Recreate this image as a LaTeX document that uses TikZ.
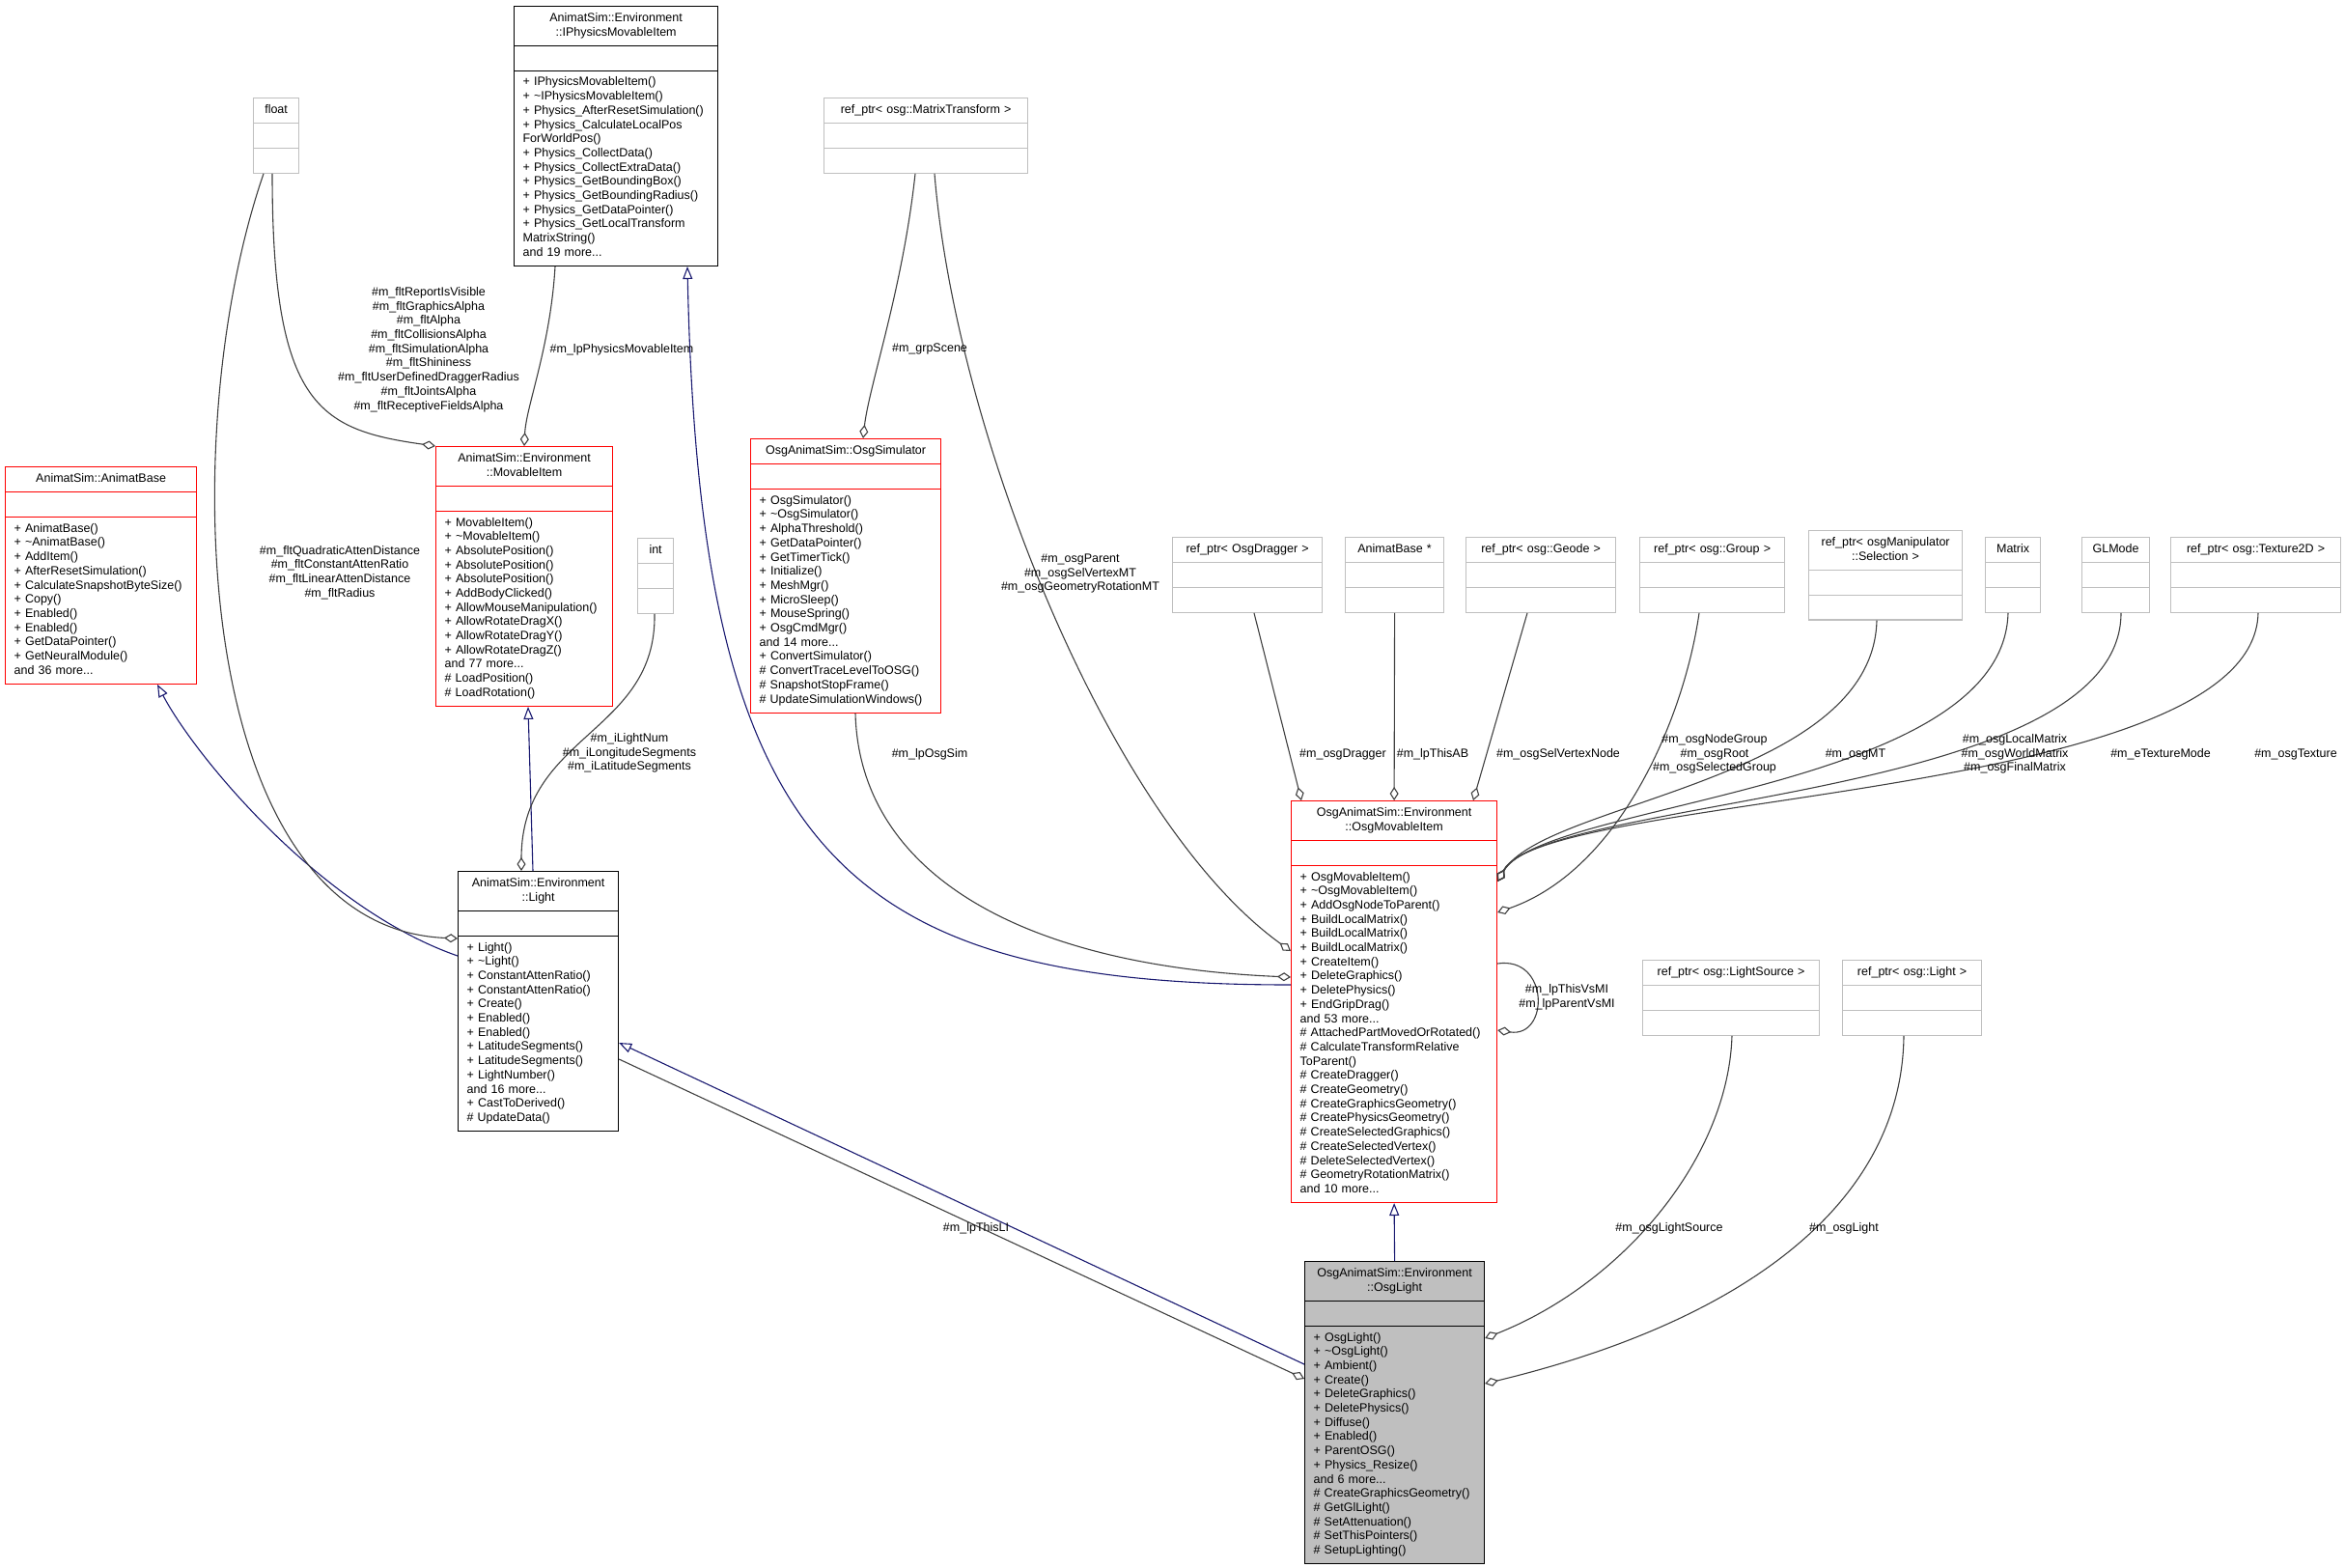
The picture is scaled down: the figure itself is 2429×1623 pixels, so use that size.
\documentclass[tikz,border=0pt]{standalone}
\usepackage{fontspec}
\setmainfont{Liberation Sans}
\usetikzlibrary{arrows.meta,shapes.multipart}
\definecolor{boxgrey}{HTML}{BFBFBF}
\definecolor{edgegrey}{HTML}{404040}
\definecolor{navyline}{HTML}{191970}
% title / empty attributes / members
\newcommand{\umlparts}[2]{\makebox[\hsize]{\begin{tabular}{@{}c@{}}#1\end{tabular}}\nodepart{two}\strut\nodepart{three}\strut#2\strut}
\tikzset{
cls/.style={rectangle split,rectangle split parts=3,draw,anchor=north west,
  inner xsep=9pt,inner ysep=5pt,align=left,line width=1.2pt},
redcls/.style={cls,draw=red},
greycls/.style={cls,draw=boxgrey},
maincls/.style={cls,fill=boxgrey},
agg/.style={draw=edgegrey,line width=1.1pt,-{Diamond[open,length=14pt,width=9pt]}},
inherit/.style={draw=navyline,line width=1.1pt,-{Triangle[open,length=13pt,width=10pt]}},
lbl/.style={align=center,inner sep=0pt}
}
\begin{document}
\begin{tikzpicture}[x=1pt,y=-1pt,font=\fontsize{12.5}{14.7}\selectfont]
\useasboundingbox (0,0) rectangle (2429,1623);
% classes
\node[cls,text width=193pt] (iphys) at (532,6) {\umlparts{AnimatSim::Environment\\::IPhysicsMovableItem}
{+ IPhysicsMovableItem()\\+ \textasciitilde IPhysicsMovableItem()\\+ Physics\_AfterResetSimulation()\\+ Physics\_CalculateLocalPos\\ForWorldPos()\\+ Physics\_CollectData()\\+ Physics\_CollectExtraData()\\+ Physics\_GetBoundingBox()\\+ Physics\_GetBoundingRadius()\\+ Physics\_GetDataPointer()\\+ Physics\_GetLocalTransform\\MatrixString()\\and 19 more...}};
\node[greycls,text width=29pt] (floatbox) at (262,101) {\umlparts{float}{}};
\node[redcls,text width=180pt] (animatbase) at (5,483) {\umlparts{AnimatSim::AnimatBase}
{+ AnimatBase()\\+ \textasciitilde AnimatBase()\\+ AddItem()\\+ AfterResetSimulation()\\+ CalculateSnapshotByteSize()\\+ Copy()\\+ Enabled()\\+ Enabled()\\+ GetDataPointer()\\+ GetNeuralModule()\\and 36 more...}};
\node[redcls,text width=165pt] (movable) at (451,462) {\umlparts{AnimatSim::Environment\\::MovableItem}
{+ MovableItem()\\+ \textasciitilde MovableItem()\\+ AbsolutePosition()\\+ AbsolutePosition()\\+ AbsolutePosition()\\+ AddBodyClicked()\\+ AllowMouseManipulation()\\+ AllowRotateDragX()\\+ AllowRotateDragY()\\+ AllowRotateDragZ()\\and 77 more...\\\# LoadPosition()\\\# LoadRotation()}};
\node[greycls,text width=19pt] (intbox) at (660,557) {\umlparts{int}{}};
\node[cls,text width=148pt] (light) at (474,902) {\umlparts{AnimatSim::Environment\\::Light}
{+ Light()\\+ \textasciitilde Light()\\+ ConstantAttenRatio()\\+ ConstantAttenRatio()\\+ Create()\\+ Enabled()\\+ Enabled()\\+ LatitudeSegments()\\+ LatitudeSegments()\\+ LightNumber()\\and 16 more...\\+ CastToDerived()\\\# UpdateData()}};
\node[redcls,text width=179pt] (osgsim) at (777,454) {\umlparts{OsgAnimatSim::OsgSimulator}
{+ OsgSimulator()\\+ \textasciitilde OsgSimulator()\\+ AlphaThreshold()\\+ GetDataPointer()\\+ GetTimerTick()\\+ Initialize()\\+ MeshMgr()\\+ MicroSleep()\\+ MouseSpring()\\+ OsgCmdMgr()\\and 14 more...\\+ ConvertSimulator()\\\# ConvertTraceLevelToOSG()\\\# SnapshotStopFrame()\\\# UpdateSimulationWindows()}};
\node[greycls,text width=193pt] (mtrans) at (853,101) {\umlparts{ref\_ptr< osg::MatrixTransform >}{}};
\node[greycls,text width=137pt] (dragger) at (1214,556) {\umlparts{ref\_ptr< OsgDragger >}{}};
\node[greycls,text width=84pt] (abptr) at (1393,556) {\umlparts{AnimatBase *}{}};
\node[greycls,text width=137pt] (geode) at (1518,556) {\umlparts{ref\_ptr< osg::Geode >}{}};
\node[greycls,text width=132pt] (group) at (1698,556) {\umlparts{ref\_ptr< osg::Group >}{}};
\node[greycls,text width=141pt] (selection) at (1873,549) {\umlparts{ref\_ptr< osgManipulator\\::Selection >}{}};
\node[greycls,text width=39pt] (matrix) at (2056,556) {\umlparts{Matrix}{}};
\node[greycls,text width=52pt] (glmode) at (2156,556) {\umlparts{GLMode}{}};
\node[greycls,text width=158pt] (texture) at (2248,556) {\umlparts{ref\_ptr< osg::Texture2D >}{}};
\node[redcls,text width=195pt] (osgmov) at (1337,829) {\umlparts{OsgAnimatSim::Environment\\::OsgMovableItem}
{+ OsgMovableItem()\\+ \textasciitilde OsgMovableItem()\\+ AddOsgNodeToParent()\\+ BuildLocalMatrix()\\+ BuildLocalMatrix()\\+ BuildLocalMatrix()\\+ CreateItem()\\+ DeleteGraphics()\\+ DeletePhysics()\\+ EndGripDrag()\\and 53 more...\\\# AttachedPartMovedOrRotated()\\\# CalculateTransformRelative\\ToParent()\\\# CreateDragger()\\\# CreateGeometry()\\\# CreateGraphicsGeometry()\\\# CreatePhysicsGeometry()\\\# CreateSelectedGraphics()\\\# CreateSelectedVertex()\\\# DeleteSelectedVertex()\\\# GeometryRotationMatrix()\\and 10 more...}};
\node[maincls,text width=168pt] (osglight) at (1351,1306) {\umlparts{OsgAnimatSim::Environment\\::OsgLight}
{+ OsgLight()\\+ \textasciitilde OsgLight()\\+ Ambient()\\+ Create()\\+ DeleteGraphics()\\+ DeletePhysics()\\+ Diffuse()\\+ Enabled()\\+ ParentOSG()\\+ Physics\_Resize()\\and 6 more...\\\# CreateGraphicsGeometry()\\\# GetGlLight()\\\# SetAttenuation()\\\# SetThisPointers()\\\# SetupLighting()}};
\node[greycls,text width=165pt] (lsource) at (1701,994) {\umlparts{ref\_ptr< osg::LightSource >}{}};
\node[greycls,text width=126pt] (lightptr) at (1908,994) {\umlparts{ref\_ptr< osg::Light >}{}};
% inheritance
\draw[inherit] (osglight.north) -- (osgmov.south);
\draw[inherit] (osglight.west |- 0,1413) -- (light.east |- 0,1080);
\draw[inherit] (552,0 |- light.north) -- (547,0 |- movable.south);
\draw[inherit] (light.west |- 0,990) .. controls (330,940) and (200,780) .. (163,0 |- animatbase.south);
\draw[inherit] (osgmov.west |- 0,1020) .. controls (870,1020) and (725,880) .. (712,0 |- iphys.south);
% members
\draw[agg] (282,0 |- floatbox.south) .. controls (282,420) and (330,445) .. (movable.north west);
\draw[agg] (273,0 |- floatbox.south) .. controls (180,450) and (200,960) .. (light.west |- 0,972);
\draw[agg] (575,0 |- iphys.south) .. controls (570,360) and (545,420) .. (543,0 |- movable.north);
\draw[agg] (678,0 |- intbox.south) .. controls (680,760) and (540,760) .. (540,0 |- light.north);
\draw[agg] (948,0 |- mtrans.south) .. controls (935,300) and (900,400) .. (894,0 |- osgsim.north);
\draw[agg] (968,0 |- mtrans.south) .. controls (990,450) and (1150,850) .. (osgmov.west |- 0,985);
\draw[agg] (886,0 |- osgsim.south) .. controls (890,900) and (1050,1000) .. (osgmov.west |- 0,1012);
\draw[agg] (1299,0 |- dragger.south) -- (1348,0 |- osgmov.north);
\draw[agg] (abptr.south) -- (osgmov.north);
\draw[agg] (1582,0 |- geode.south) -- (1526,0 |- osgmov.north);
\draw[agg] (1760,0 |- group.south) .. controls (1745,740) and (1680,900) .. (osgmov.east |- 0,945);
\draw[agg] (1944,0 |- selection.south) .. controls (1940,810) and (1600,830) .. (osgmov.east |- 0,913);
\draw[agg] (2080,0 |- matrix.south) .. controls (2075,820) and (1600,830) .. (osgmov.east |- 0,913);
\draw[agg] (2197,0 |- glmode.south) .. controls (2197,830) and (1600,825) .. (osgmov.east |- 0,913);
\draw[agg] (2339,0 |- texture.south) .. controls (2335,830) and (1600,820) .. (osgmov.east |- 0,913);
\draw[agg] (osgmov.east |- 0,998) .. controls (1605,990) and (1605,1075) .. (osgmov.east |- 0,1067);
\draw[agg] (light.east |- 0,1097) -- (osglight.west |- 0,1428);
\draw[agg] (1794,0 |- lsource.south) .. controls (1790,1200) and (1680,1330) .. (osglight.east |- 0,1386);
\draw[agg] (1972,0 |- lightptr.south) .. controls (1970,1250) and (1800,1370) .. (osglight.east |- 0,1433);
% edge labels
\node[lbl] (lblfltmov) at (444,362) {\#m\_fltReportIsVisible\\\#m\_fltGraphicsAlpha\\\#m\_fltAlpha\\\#m\_fltCollisionsAlpha\\\#m\_fltSimulationAlpha\\\#m\_fltShininess\\\#m\_fltUserDefinedDraggerRadius\\\#m\_fltJointsAlpha\\\#m\_fltReceptiveFieldsAlpha};
\node[lbl] (lblfltlight) at (352,593) {\#m\_fltQuadraticAttenDistance\\\#m\_fltConstantAttenRatio\\\#m\_fltLinearAttenDistance\\\#m\_fltRadius};
\node[lbl] (lblphys) at (644,362) {\#m\_lpPhysicsMovableItem};
\node[lbl] (lblint) at (652,780) {\#m\_iLightNum\\\#m\_iLongitudeSegments\\\#m\_iLatitudeSegments};
\node[lbl] (lblscene) at (963,361) {\#m\_grpScene};
\node[lbl] (lblparent) at (1119,594) {\#m\_osgParent\\\#m\_osgSelVertexMT\\\#m\_osgGeometryRotationMT};
\node[lbl] (lblsim) at (963,781) {\#m\_lpOsgSim};
\node[lbl] (lbldrag) at (1391,781) {\#m\_osgDragger};
\node[lbl] (lblab) at (1484,781) {\#m\_lpThisAB};
\node[lbl] (lblgeode) at (1614,781) {\#m\_osgSelVertexNode};
\node[lbl] (lblgroup) at (1776,781) {\#m\_osgNodeGroup\\\#m\_osgRoot\\\#m\_osgSelectedGroup};
\node[lbl] (lblmt) at (1922,781) {\#m\_osgMT};
\node[lbl] (lblmatrix) at (2087,781) {\#m\_osgLocalMatrix\\\#m\_osgWorldMatrix\\\#m\_osgFinalMatrix};
\node[lbl] (lblmode) at (2238,781) {\#m\_eTextureMode};
\node[lbl] (lbltex) at (2378,781) {\#m\_osgTexture};
\node[lbl] (lblloop) at (1623,1033) {\#m\_lpThisVsMI\\\#m\_lpParentVsMI};
\node[lbl] (lblthisli) at (1011,1272) {\#m\_lpThisLI};
\node[lbl] (lbllsource) at (1729,1272) {\#m\_osgLightSource};
\node[lbl] (lbllight) at (1910,1272) {\#m\_osgLight};
\end{tikzpicture}
\end{document}
